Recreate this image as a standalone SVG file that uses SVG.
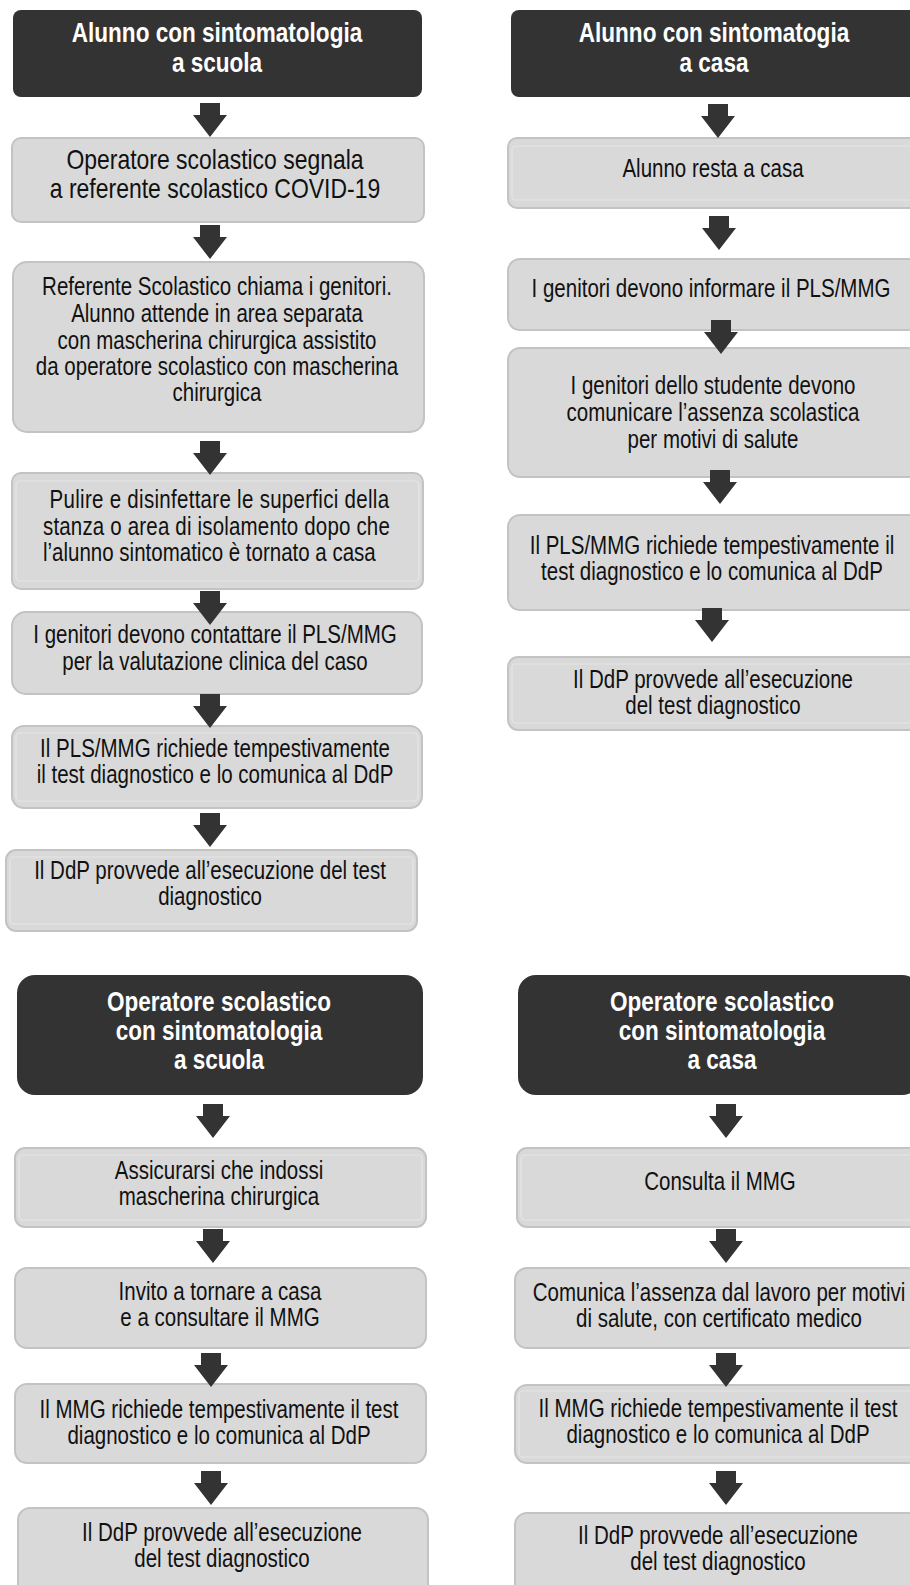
<svg xmlns="http://www.w3.org/2000/svg" xmlns:xlink="http://www.w3.org/1999/xlink" width="910" height="1585" viewBox="0 0 910 1585">
<style>
.dark{fill:#333333}
.light{fill:#d9d9d9;stroke:#c3c3c3;stroke-width:2}
.bevel{fill:none;stroke:#e6e6e6;stroke-width:1.2}
.t{font-family:"Liberation Sans",Arial,sans-serif;font-size:25px;fill:#111;text-anchor:middle}
.tb{font-size:28px}
.h{font-family:"Liberation Sans",Arial,sans-serif;font-size:27.5px;font-weight:bold;fill:#ffffff;text-anchor:middle}
.arr{fill:#333333}
</style>
<defs>
<path id="arrow" d="M-10 0 H10 V12 H17 L0 34 L-17 12 H-10 Z"/>
</defs>
<rect width="910" height="1585" fill="#ffffff"/>

<!-- Left top column -->
<g id="alunno-scuola">
<rect class="dark" x="13" y="10" width="409" height="87" rx="8"/>
<text class="h" transform="matrix(0.82 0 0 1 217 0)"><tspan x="0" y="42">Alunno con sintomatologia</tspan><tspan x="0" y="72">a scuola</tspan></text>
</g>
<g id="operatore-segnala">
<rect class="light" x="12" y="138" width="412" height="84" rx="9"/>
<text class="t tb" transform="matrix(0.82 0 0 1 215 0)"><tspan x="0" y="169">Operatore scolastico segnala</tspan><tspan x="0" y="198">a referente scolastico COVID-19</tspan></text>
</g>
<g id="referente-chiama">
<rect class="light" x="13" y="262" width="411" height="170" rx="14"/>
<text class="t" transform="matrix(0.82 0 0 1 217 0)"><tspan x="0" y="295">Referente Scolastico chiama i genitori.</tspan><tspan x="0" y="322">Alunno attende in area separata</tspan><tspan x="0" y="349">con mascherina chirurgica assistito</tspan><tspan x="0" y="375">da operatore scolastico con mascherina</tspan><tspan x="0" y="401">chirurgica</tspan></text>
</g>
<g id="pulire">
<rect class="light" x="12" y="473" width="411" height="116" rx="9"/>
<rect class="bevel" x="16" y="481" width="403" height="100" rx="4"/>
<text class="t" style="text-anchor:start" transform="matrix(0.82 0 0 1 43 0)"><tspan x="8" y="508" textLength="414" lengthAdjust="spacing">Pulire e disinfettare le superfici della</tspan><tspan x="0" y="535" textLength="423" lengthAdjust="spacing">stanza o area di isolamento dopo che</tspan><tspan x="0" y="561">l’alunno sintomatico è tornato a casa</tspan></text>
</g>
<g id="genitori-contattare">
<rect class="light" x="12" y="612" width="410" height="82" rx="14"/>
<text class="t" transform="matrix(0.82 0 0 1 215 0)"><tspan x="0" y="643">I genitori devono contattare il PLS/MMG</tspan><tspan x="0" y="670">per la valutazione clinica del caso</tspan></text>
</g>
<g id="pls-richiede">
<rect class="light" x="12" y="726" width="410" height="82" rx="12"/>
<rect class="bevel" x="16" y="733" width="402" height="68" rx="4"/>
<text class="t" transform="matrix(0.82 0 0 1 215 0)"><tspan x="0" y="757">Il PLS/MMG richiede tempestivamente</tspan><tspan x="0" y="783">il test diagnostico e lo comunica al DdP</tspan></text>
</g>
<g id="ddp-esecuzione-1">
<rect class="light" x="6" y="850" width="411" height="81" rx="10"/>
<rect class="bevel" x="10" y="857" width="403" height="67" rx="4"/>
<text class="t" transform="matrix(0.82 0 0 1 210 0)"><tspan x="0" y="879">Il DdP provvede all’esecuzione del test</tspan><tspan x="0" y="905">diagnostico</tspan></text>
</g>

<!-- Right top column -->
<g id="alunno-casa">
<rect class="dark" x="511" y="10" width="410" height="87" rx="8"/>
<text class="h" transform="matrix(0.82 0 0 1 714 0)"><tspan x="0" y="42">Alunno con sintomatogia</tspan><tspan x="0" y="72">a casa</tspan></text>
</g>
<g id="resta-casa">
<rect class="light" x="508" y="138" width="412" height="70" rx="9"/>
<rect class="bevel" x="512" y="146" width="410" height="54" rx="4"/>
<text class="t" transform="matrix(0.82 0 0 1 713 0)"><tspan x="0" y="177">Alunno resta a casa</tspan></text>
</g>
<g id="genitori-informare">
<rect class="light" x="508" y="259" width="412" height="71" rx="12"/>
<text class="t" transform="matrix(0.82 0 0 1 711 0)"><tspan x="0" y="297">I genitori devono informare il PLS/MMG</tspan></text>
</g>
<g id="genitori-comunicare">
<rect class="light" x="508" y="348" width="412" height="129" rx="12"/>
<text class="t" transform="matrix(0.82 0 0 1 713 0)"><tspan x="0" y="394">I genitori dello studente devono</tspan><tspan x="0" y="421">comunicare l’assenza scolastica</tspan><tspan x="0" y="448">per motivi di salute</tspan></text>
</g>
<g id="pls-richiede-casa">
<rect class="light" x="508" y="515" width="412" height="95" rx="12"/>
<text class="t" transform="matrix(0.82 0 0 1 712 0)"><tspan x="0" y="554">Il PLS/MMG richiede tempestivamente il</tspan><tspan x="0" y="580">test diagnostico e lo comunica al DdP</tspan></text>
</g>
<g id="ddp-esecuzione-2">
<rect class="light" x="508" y="657" width="412" height="73" rx="10"/>
<rect class="bevel" x="512" y="664" width="410" height="59" rx="4"/>
<text class="t" transform="matrix(0.82 0 0 1 713 0)"><tspan x="0" y="688">Il DdP provvede all’esecuzione</tspan><tspan x="0" y="714">del test diagnostico</tspan></text>
</g>

<!-- Left bottom column -->
<g id="operatore-scuola">
<rect class="dark" x="17" y="975" width="406" height="120" rx="18"/>
<text class="h" transform="matrix(0.82 0 0 1 219 0)"><tspan x="0" y="1011">Operatore scolastico</tspan><tspan x="0" y="1040">con sintomatologia</tspan><tspan x="0" y="1069">a scuola</tspan></text>
</g>
<g id="assicurarsi">
<rect class="light" x="15" y="1148" width="411" height="79" rx="10"/>
<rect class="bevel" x="19" y="1155" width="403" height="65" rx="4"/>
<text class="t" transform="matrix(0.82 0 0 1 219 0)"><tspan x="0" y="1179">Assicurarsi che indossi</tspan><tspan x="0" y="1205">mascherina chirurgica</tspan></text>
</g>
<g id="invito">
<rect class="light" x="15" y="1268" width="411" height="80" rx="12"/>
<text class="t" transform="matrix(0.82 0 0 1 220 0)"><tspan x="0" y="1300">Invito a tornare a casa</tspan><tspan x="0" y="1326">e a consultare il MMG</tspan></text>
</g>
<g id="mmg-richiede-1">
<rect class="light" x="15" y="1384" width="411" height="79" rx="12"/>
<text class="t" transform="matrix(0.82 0 0 1 219 0)"><tspan x="0" y="1418">Il MMG richiede tempestivamente il test</tspan><tspan x="0" y="1444">diagnostico e lo comunica al DdP</tspan></text>
</g>
<g id="ddp-esecuzione-3">
<rect class="light" x="18" y="1508" width="410" height="90" rx="12"/>
<text class="t" transform="matrix(0.82 0 0 1 222 0)"><tspan x="0" y="1541">Il DdP provvede all’esecuzione</tspan><tspan x="0" y="1567">del test diagnostico</tspan></text>
</g>

<!-- Right bottom column -->
<g id="operatore-casa">
<rect class="dark" x="518" y="975" width="402" height="120" rx="18"/>
<text class="h" transform="matrix(0.82 0 0 1 722 0)"><tspan x="0" y="1011">Operatore scolastico</tspan><tspan x="0" y="1040">con sintomatologia</tspan><tspan x="0" y="1069">a casa</tspan></text>
</g>
<g id="consulta-mmg">
<rect class="light" x="517" y="1148" width="403" height="79" rx="10"/>
<rect class="bevel" x="521" y="1155" width="400" height="65" rx="4"/>
<text class="t" transform="matrix(0.82 0 0 1 720 0)"><tspan x="0" y="1190">Consulta il MMG</tspan></text>
</g>
<g id="comunica-assenza">
<rect class="light" x="515" y="1268" width="405" height="80" rx="12"/>
<text class="t" transform="matrix(0.82 0 0 1 719 0)"><tspan x="0" y="1301">Comunica l’assenza dal lavoro per motivi</tspan><tspan x="0" y="1327">di salute, con certificato medico</tspan></text>
</g>
<g id="mmg-richiede-2">
<rect class="light" x="515" y="1385" width="405" height="78" rx="12"/>
<rect class="bevel" x="519" y="1391" width="402" height="66" rx="4"/>
<text class="t" transform="matrix(0.82 0 0 1 718 0)"><tspan x="0" y="1417">Il MMG richiede tempestivamente il test</tspan><tspan x="0" y="1443">diagnostico e lo comunica al DdP</tspan></text>
</g>
<g id="ddp-esecuzione-4">
<rect class="light" x="515" y="1513" width="405" height="85" rx="12"/>
<text class="t" transform="matrix(0.82 0 0 1 718 0)"><tspan x="0" y="1544">Il DdP provvede all’esecuzione</tspan><tspan x="0" y="1570">del test diagnostico</tspan></text>
</g>

<g id="connectors" class="arr">
<use xlink:href="#arrow" x="210" y="103"/>
<use xlink:href="#arrow" x="210" y="225"/>
<use xlink:href="#arrow" x="210" y="441"/>
<use xlink:href="#arrow" x="210" y="591"/>
<use xlink:href="#arrow" x="210" y="694"/>
<use xlink:href="#arrow" x="210" y="813"/>
<use xlink:href="#arrow" x="718" y="104"/>
<use xlink:href="#arrow" x="719" y="216"/>
<use xlink:href="#arrow" x="721" y="320"/>
<use xlink:href="#arrow" x="720" y="470"/>
<use xlink:href="#arrow" x="712" y="608"/>
<use xlink:href="#arrow" x="213" y="1104"/>
<use xlink:href="#arrow" x="213" y="1229"/>
<use xlink:href="#arrow" x="211" y="1353"/>
<use xlink:href="#arrow" x="211" y="1471"/>
<use xlink:href="#arrow" x="726" y="1104"/>
<use xlink:href="#arrow" x="726" y="1229"/>
<use xlink:href="#arrow" x="726" y="1353"/>
<use xlink:href="#arrow" x="726" y="1471"/>
</g>
</svg>
